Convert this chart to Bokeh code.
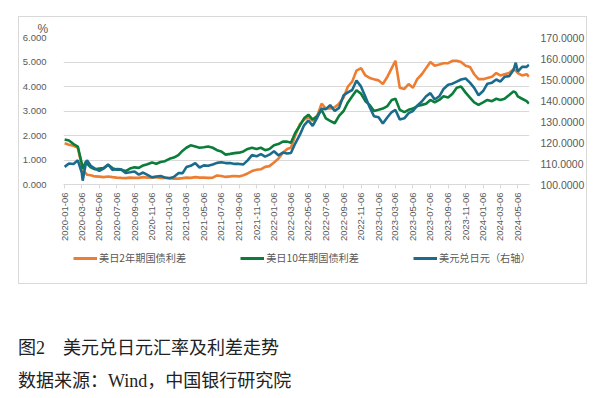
import math
import numpy as np
import pandas as pd
from bokeh.plotting import figure
from bokeh.models import (Range1d, LinearAxis, FixedTicker, DatetimeTickFormatter,
                          NumeralTickFormatter, Legend, LegendItem, Div, ColumnDataSource, Spacer)
from bokeh.layouts import column, row
from bokeh.embed import file_html
from bokeh.resources import INLINE

# ---------------- data ----------------
dates = [
    "2020-01-06", "2020-01-21", "2020-02-06", "2020-02-21", "2020-03-06", "2020-03-09",
    "2020-03-21", "2020-03-24", "2020-04-06", "2020-04-21", "2020-05-06", "2020-05-21",
    "2020-06-06", "2020-06-21", "2020-07-06", "2020-07-21", "2020-08-06", "2020-08-21",
    "2020-09-06", "2020-09-21", "2020-10-06", "2020-10-21", "2020-11-06", "2020-11-21",
    "2020-12-06", "2020-12-21",
    "2021-01-06", "2021-01-21", "2021-02-06", "2021-02-21", "2021-03-06", "2021-03-21",
    "2021-04-06", "2021-04-21", "2021-05-06", "2021-05-21", "2021-06-06", "2021-06-21",
    "2021-07-06", "2021-07-21", "2021-08-06", "2021-08-21", "2021-09-06", "2021-09-21",
    "2021-10-06", "2021-10-21", "2021-11-06", "2021-11-21", "2021-12-06", "2021-12-21",
    "2022-01-06", "2022-01-21", "2022-02-06", "2022-02-21", "2022-03-06", "2022-03-21",
    "2022-04-06", "2022-04-21", "2022-05-06", "2022-05-21", "2022-06-06", "2022-06-21",
    "2022-07-06", "2022-07-21", "2022-08-06", "2022-08-21", "2022-09-06", "2022-09-21",
    "2022-10-06", "2022-10-21", "2022-11-06", "2022-11-21", "2022-12-06", "2022-12-21",
    "2023-01-06", "2023-01-21", "2023-02-06", "2023-02-21", "2023-03-06", "2023-03-21",
    "2023-04-06", "2023-04-21", "2023-05-06", "2023-05-21", "2023-06-06", "2023-06-21",
    "2023-07-06", "2023-07-21", "2023-08-06", "2023-08-21", "2023-09-06", "2023-09-21",
    "2023-10-06", "2023-10-21", "2023-11-06", "2023-11-21", "2023-12-06", "2023-12-21",
    "2024-01-06", "2024-01-21", "2024-02-06", "2024-02-21", "2024-03-06", "2024-03-21",
    "2024-04-06", "2024-04-21", "2024-04-29", "2024-05-06", "2024-05-21", "2024-06-06",
    "2024-06-14",
]

# US-Japan 2Y government bond spread (%)
spread_2y = [
    1.68, 1.62, 1.58, 1.50, 0.75, 0.55, 0.45, 0.40, 0.38, 0.33, 0.32, 0.30,
    0.33, 0.30, 0.28, 0.27, 0.26, 0.28, 0.27, 0.27, 0.30, 0.28, 0.29, 0.30,
    0.27, 0.27,
    0.26, 0.24, 0.24, 0.26, 0.28, 0.27, 0.30, 0.28, 0.28, 0.27, 0.28, 0.37,
    0.35, 0.31, 0.33, 0.35, 0.33, 0.38, 0.45, 0.55, 0.60, 0.62, 0.72, 0.75,
    0.90, 1.05, 1.30, 1.45, 1.50, 2.00, 2.45, 2.65, 2.75, 2.60, 2.80, 3.30,
    3.10, 3.10, 3.15, 3.30, 3.55, 4.00, 4.20, 4.65, 4.75, 4.45, 4.35, 4.30,
    4.25, 4.10, 4.40, 4.75, 5.05, 3.95, 3.90, 4.10, 3.95, 4.30, 4.50, 4.75,
    5.00, 4.85, 4.90, 4.95, 4.95, 5.05, 5.05, 5.00, 4.85, 4.80, 4.50, 4.30,
    4.30, 4.35, 4.40, 4.55, 4.45, 4.50, 4.55, 4.70, 4.65, 4.55, 4.45, 4.50,
    4.40,
]

# US-Japan 10Y government bond spread (%)
spread_10y = [
    1.84, 1.80, 1.65, 1.55, 0.85, 0.65, 0.95, 0.85, 0.70, 0.62, 0.65, 0.67,
    0.80, 0.67, 0.60, 0.60, 0.55, 0.65, 0.70, 0.68, 0.78, 0.83, 0.90, 0.85,
    0.92, 0.95,
    1.05, 1.10, 1.20, 1.38, 1.50, 1.60, 1.55, 1.50, 1.52, 1.55, 1.50, 1.40,
    1.35, 1.22, 1.25, 1.28, 1.30, 1.35, 1.45, 1.50, 1.45, 1.50, 1.40, 1.45,
    1.60, 1.65, 1.75, 1.75, 1.70, 2.10, 2.40, 2.70, 2.85, 2.65, 2.80, 3.05,
    2.70, 2.60, 2.50, 2.80, 3.00, 3.35, 3.60, 3.85, 3.70, 3.40, 3.25, 3.00,
    3.05, 3.10, 3.20, 3.45, 3.50, 3.05, 2.95, 3.05, 3.10, 3.20, 3.25, 3.30,
    3.45, 3.35, 3.45, 3.60, 3.55, 3.70, 3.95, 4.00, 3.75, 3.55, 3.35, 3.25,
    3.35, 3.45, 3.40, 3.50, 3.45, 3.50, 3.65, 3.80, 3.75, 3.60, 3.50, 3.40,
    3.30,
]

# USD/JPY (right axis)
usdjpy = [
    108.4, 110.0, 109.8, 111.5, 105.5, 101.8, 110.8, 111.5, 108.9, 107.6, 106.5, 107.6,
    109.5, 106.9, 107.4, 107.2, 105.5, 105.8, 106.2, 104.7, 105.7, 104.6, 103.4, 103.8,
    104.0, 103.3,
    103.0, 103.6, 105.4, 105.4, 108.3, 108.9, 110.2, 108.1, 109.1, 108.9, 109.5, 110.3,
    110.6, 110.2, 110.2, 109.8, 109.8, 109.6, 111.5, 114.0, 113.4, 114.5, 113.3, 114.2,
    115.8, 113.9, 115.2, 114.8, 115.0, 119.5, 123.6, 128.2, 130.5, 127.9, 131.9, 136.1,
    135.9, 137.8, 135.0, 136.5, 142.5, 143.9, 145.0, 149.5, 146.6, 141.8, 136.8, 132.5,
    132.0, 129.0, 132.0, 134.5, 135.5, 131.0, 131.5, 134.0, 135.0, 137.5, 139.5, 142.0,
    143.5, 140.5, 142.0, 145.5, 147.5, 148.0, 149.0, 150.0, 150.5, 148.5, 146.0, 142.5,
    144.5, 148.0, 148.5, 150.0, 149.0, 151.3, 151.6, 154.5, 158.0, 153.8, 156.0, 156.0,
    157.0,
]

x_tick_labels = [
    "2020-01-06", "2020-03-06", "2020-05-06", "2020-07-06", "2020-09-06", "2020-11-06",
    "2021-01-06", "2021-03-06", "2021-05-06", "2021-07-06", "2021-09-06", "2021-11-06",
    "2022-01-06", "2022-03-06", "2022-05-06", "2022-07-06", "2022-09-06", "2022-11-06",
    "2023-01-06", "2023-03-06", "2023-05-06", "2023-07-06", "2023-09-06", "2023-11-06",
    "2024-01-06", "2024-03-06", "2024-05-06",
]
left_ticks = [0, 1, 2, 3, 4, 5, 6]
right_ticks = [100, 110, 120, 130, 140, 150, 160, 170]

series_names = ["美日2年期国债利差", "美日10年期国债利差", "美元兑日元（右轴）"]
series_colors = ["#ED7D31", "#0B7D3A", "#1B6C8C"]
unit_label = "%"
caption_title = "图2　美元兑日元汇率及利差走势"
caption_source = "数据来源：Wind，中国银行研究院"

assert len(dates) == len(spread_2y) == len(spread_10y) == len(usdjpy)

LABEL_COLOR = "#595959"
AX_FONT = "Liberation Sans"
BOX = "1px solid #d9d9d9"
SHIFT = "translate(9px, 8px)"

# ---------------- main chart ----------------
dt = pd.to_datetime(dates)
src = ColumnDataSource(dict(date=dt, s2=spread_2y, s10=spread_10y, fx=usdjpy))
tick_ms = [pd.Timestamp(t).value / 1e6 for t in x_tick_labels]

p = figure(
    width=569, height=228,
    x_axis_type="datetime",
    x_range=Range1d(pd.Timestamp("2020-01-02"), pd.Timestamp("2024-06-16")),
    y_range=Range1d(0, 6),
    output_backend="svg", toolbar_location=None,
    min_border_left=41, min_border_right=59, min_border_top=17, min_border_bottom=61,
)
p.styles = {"border-top": BOX, "border-left": BOX, "border-right": BOX, "transform": SHIFT}
p.outline_line_color = None
p.background_fill_color = "white"
p.border_fill_color = "white"
p.extra_y_ranges = {"fx": Range1d(100, 170)}

# unit label "%" above the left axis, via the title
p.title.text = unit_label
p.title.align = "left"
p.title.offset = -26
p.title.standoff = 4
p.title.text_font = AX_FONT
p.title.text_font_size = "12px"
p.title.text_font_style = "normal"
p.title.text_color = LABEL_COLOR

xa = p.xaxis[0]
xa.ticker = FixedTicker(ticks=tick_ms)
fmt = "%Y-%m-%d"
xa.formatter = DatetimeTickFormatter(days=fmt, months=fmt, years=fmt, hours=fmt,
                                     minutes=fmt, seconds=fmt, milliseconds=fmt,
                                     microseconds=fmt, minsec=fmt, hourmin=fmt)
xa.major_label_orientation = math.pi / 2
xa.major_label_text_font = AX_FONT
xa.major_label_text_font_size = "9.5px"
xa.major_label_text_color = LABEL_COLOR
xa.axis_line_color = "#d9d9d9"
xa.major_tick_line_color = "#d9d9d9"
xa.major_tick_in = 0
xa.major_tick_out = 4
xa.minor_tick_line_color = None
xa.major_label_standoff = 4

ya = p.yaxis[0]
ya.ticker = FixedTicker(ticks=left_ticks)
ya.formatter = NumeralTickFormatter(format="0.000")
ya.axis_line_color = None
ya.major_tick_line_color = None
ya.minor_tick_line_color = None
ya.major_label_standoff = 11
ya.major_label_text_font = AX_FONT
ya.major_label_text_font_size = "9.5px"
ya.major_label_text_color = LABEL_COLOR

ra = LinearAxis(y_range_name="fx", ticker=FixedTicker(ticks=right_ticks),
                formatter=NumeralTickFormatter(format="0.0000"))
ra.axis_line_color = None
ra.major_tick_line_color = None
ra.minor_tick_line_color = None
ra.major_label_standoff = 5
ra.major_label_text_font = AX_FONT
ra.major_label_text_font_size = "10.5px"
ra.major_label_text_color = LABEL_COLOR
p.add_layout(ra, "right")

p.xgrid.grid_line_color = None
p.ygrid.grid_line_color = "#d9d9d9"
p.ygrid.grid_line_width = 1

p.line("date", "s2", source=src, color=series_colors[0], line_width=2.6)
p.line("date", "s10", source=src, color=series_colors[1], line_width=2.6)
p.line("date", "fx", source=src, color=series_colors[2], line_width=2.6, y_range_name="fx")

# ---------------- legend strip ----------------
pl = figure(width=569, height=40, x_range=Range1d(0, 1), y_range=Range1d(0, 1),
            x_axis_location=None, y_axis_location=None,
            output_backend="svg", toolbar_location=None,
            min_border_left=0, min_border_right=0, min_border_top=0, min_border_bottom=0)
pl.styles = {"border-bottom": BOX, "border-left": BOX, "border-right": BOX, "transform": SHIFT}
pl.grid.visible = False
pl.outline_line_color = None
pl.background_fill_color = "white"
pl.border_fill_color = "white"
items = []
for name, col in zip(series_names, series_colors):
    # swatch-only renderer (no visible data), used just to draw the legend key
    r = pl.line(x=np.array([np.nan]), y=np.array([np.nan]), color=col, line_width=3)
    items.append(LegendItem(label=name, renderers=[r]))
legend = Legend(
    items=items, orientation="horizontal", location=(10, 19),
    glyph_width=24, glyph_height=14, label_height=14, label_standoff=2,
    spacing=54, padding=0, margin=0,
    label_text_font="Noto Sans CJK SC", label_text_font_size="10.2px",
    label_text_color=LABEL_COLOR,
    border_line_color=None, background_fill_alpha=0,
)
pl.add_layout(legend)

caption = Div(
    text=('<div style="padding-left:13px; padding-top:50px; font-family:\'Liberation Serif\', '
          '\'Noto Sans CJK SC\'; font-size:18px; line-height:33px; color:#222222; '
          'white-space:pre;">' + caption_title + '<br>' + caption_source + '</div>'),
    width=590, height=100,
)

layout = column(Spacer(width=10, height=8),
                row(Spacer(width=9, height=269), column(p, pl)),
                caption)

open("out.html", "w").write(file_html(layout, INLINE))
